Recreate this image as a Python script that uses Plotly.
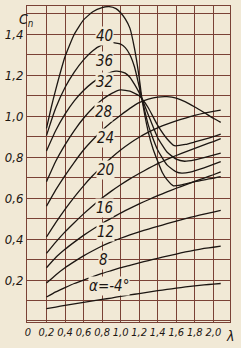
import plotly.graph_objects as go

# ---- data ----
lam_low = [0.2, 0.3, 0.4, 0.5, 0.6, 0.7, 0.8, 0.9, 1.0, 1.1, 1.2, 1.3, 1.4, 1.5, 1.6, 1.7, 1.8, 1.9, 2.0, 2.08]

cn_a = [0.06, 0.068, 0.076, 0.084, 0.091, 0.098, 0.105, 0.112, 0.12, 0.127, 0.134, 0.141, 0.148, 0.154, 0.16, 0.166, 0.171, 0.176, 0.18, 0.183]
cn_b = [0.117, 0.142, 0.163, 0.183, 0.2, 0.216, 0.232, 0.246, 0.26, 0.272, 0.284, 0.295, 0.306, 0.317, 0.327, 0.337, 0.346, 0.354, 0.36, 0.365]
cn_c = [0.185, 0.225, 0.26, 0.29, 0.318, 0.343, 0.366, 0.386, 0.404, 0.42, 0.435, 0.449, 0.462, 0.475, 0.488, 0.5, 0.511, 0.522, 0.532, 0.54]
cn_d = [0.26, 0.31, 0.35, 0.385, 0.418, 0.448, 0.476, 0.502, 0.527, 0.55, 0.572, 0.592, 0.612, 0.63, 0.648, 0.665, 0.682, 0.698, 0.714, 0.728]
cn_e = [0.33, 0.385, 0.435, 0.48, 0.523, 0.563, 0.6, 0.634, 0.665, 0.694, 0.72, 0.745, 0.768, 0.789, 0.808, 0.826, 0.843, 0.86, 0.876, 0.89]
cn_f = [0.41, 0.48, 0.545, 0.605, 0.66, 0.71, 0.755, 0.797, 0.835, 0.868, 0.897, 0.922, 0.943, 0.961, 0.977, 0.991, 1.004, 1.015, 1.024, 1.03]
cn_g = [0.56, 0.64, 0.71, 0.775, 0.835, 0.885, 0.93, 0.97, 1.005, 1.038, 1.066, 1.083, 1.093, 1.095, 1.088, 1.07, 1.045, 1.018, 0.99, 0.97]

lam_h = [0.2, 0.3, 0.4, 0.5, 0.6, 0.7, 0.8, 0.9, 1.0, 1.1, 1.2, 1.23, 1.3, 1.4, 1.5, 1.58, 1.7, 1.8, 1.9, 2.0, 2.08]
cn_h = [0.68, 0.78, 0.86, 0.93, 0.99, 1.04, 1.08, 1.11, 1.128, 1.122, 1.1, 1.085, 1.04, 0.955, 0.89, 0.856, 0.862, 0.874, 0.887, 0.9, 0.912]

lam_i = [0.2, 0.3, 0.4, 0.5, 0.6, 0.7, 0.8, 0.9, 0.95, 1.0, 1.05, 1.1, 1.15, 1.2, 1.23, 1.3, 1.4, 1.5, 1.6, 1.69, 1.8, 1.9, 2.08]
cn_i = [0.83, 0.93, 1.01, 1.075, 1.125, 1.165, 1.195, 1.215, 1.22, 1.218, 1.21, 1.19, 1.155, 1.115, 1.085, 1.005, 0.895, 0.825, 0.79, 0.78, 0.787, 0.798, 0.82]

lam_j = [0.2, 0.25, 0.3, 0.4, 0.5, 0.6, 0.7, 0.8, 0.9, 1.0, 1.05, 1.1, 1.15, 1.2, 1.23, 1.3, 1.35, 1.4, 1.5, 1.6, 1.66, 1.75, 1.9, 2.08]
cn_j = [0.905, 0.975, 1.04, 1.14, 1.215, 1.275, 1.32, 1.348, 1.36, 1.352, 1.335, 1.3, 1.24, 1.145, 1.085, 0.955, 0.89, 0.835, 0.762, 0.728, 0.722, 0.727, 0.748, 0.778]

lam_k = [0.2, 0.25, 0.3, 0.4, 0.5, 0.6, 0.7, 0.8, 0.875, 0.95, 1.0, 1.05, 1.1, 1.15, 1.2, 1.23, 1.3, 1.35, 1.4, 1.45, 1.5, 1.57, 1.65, 1.8, 2.0, 2.08]
cn_k = [0.94, 1.04, 1.13, 1.29, 1.40, 1.47, 1.51, 1.53, 1.535, 1.525, 1.505, 1.475, 1.43, 1.33, 1.19, 1.085, 0.92, 0.84, 0.78, 0.725, 0.69, 0.66, 0.664, 0.68, 0.697, 0.705]

curves = [
    (lam_low, cn_a), (lam_low, cn_b), (lam_low, cn_c), (lam_low, cn_d),
    (lam_low, cn_e), (lam_low, cn_f), (lam_low, cn_g),
    (lam_h, cn_h), (lam_i, cn_i), (lam_j, cn_j), (lam_k, cn_k),
]

label_text = ["40", "36", "32", "28", "24", "20", "16", "12", "8", "α=-4°"]
label_lam = [0.83, 0.83, 0.83, 0.82, 0.84, 0.84, 0.83, 0.84, 0.82, 0.87]
label_cn = [1.39, 1.27, 1.165, 1.02, 0.895, 0.735, 0.55, 0.433, 0.30, 0.17]

x_tickvals = [0, 0.2, 0.4, 0.6, 0.8, 1.0, 1.2, 1.4, 1.6, 1.8, 2.0]
x_ticktext = ["0", "0,2", "0,4", "0,6", "0,8", "1,0", "1,2", "1,4", "1,6", "1,8", "2,0"]
y_tickvals = [0.2, 0.4, 0.6, 0.8, 1.0, 1.2, 1.4]
y_ticktext = ["0,2", "0,4", "0,6", "0,8", "1,0", "1,2", "1,4"]

# ---- styling ----
paper = "#f1e9d6"
grid = "#7a4236"
ink = "#1c1612"
font_fam = "Liberation Sans Narrow, DejaVu Sans Condensed, sans-serif"

fig = go.Figure()
for lx, cy in curves:
    fig.add_trace(go.Scatter(x=lx, y=cy, mode="lines",
                             line=dict(color=ink, width=1.3, shape="spline", smoothing=0.45),
                             hoverinfo="skip", showlegend=False))

for t, lx, cy in zip(label_text, label_lam, label_cn):
    fig.add_annotation(x=lx, y=cy, text=t, showarrow=False,
                       font=dict(family=font_fam, size=15, color=ink, style="italic"),
                       bgcolor=paper, borderpad=0)

fig.add_annotation(xref="paper", yref="paper", x=-0.05, y=0.99, yanchor="top", text="C<sub>n</sub>",
                   showarrow=False, font=dict(family=font_fam, size=14, color=ink, style="italic"))
fig.add_annotation(xref="paper", yref="paper", x=1.03, y=-0.012, text="λ", yanchor="top",
                   showarrow=False, font=dict(family=font_fam, size=14, color=ink, style="italic"))

fig.update_layout(
    width=241, height=348,
    margin=dict(l=20, r=11, t=5, b=26),
    paper_bgcolor=paper, plot_bgcolor=paper,
    showlegend=False,
)
fig.update_xaxes(range=[-0.01, 2.18], tickvals=x_tickvals, ticktext=x_ticktext, tickangle=0,
                 showgrid=True, gridcolor=grid, gridwidth=1,
                 showline=True, linecolor=grid, linewidth=1, mirror=True,
                 zeroline=False, ticks="",
                 tickfont=dict(family=font_fam, size=11, color=ink, style="italic"))
fig.update_yaxes(range=[-0.005, 1.538], tickvals=y_tickvals, ticktext=y_ticktext,
                 showgrid=True, gridcolor=grid, gridwidth=1,
                 minor=dict(dtick=0.1, tick0=0, showgrid=True, gridcolor=grid, gridwidth=1),
                 showline=True, linecolor=grid, linewidth=1, mirror=True,
                 zeroline=False, ticks="",
                 tickfont=dict(family=font_fam, size=13, color=ink, style="italic"))

fig.write_html("out.html")
